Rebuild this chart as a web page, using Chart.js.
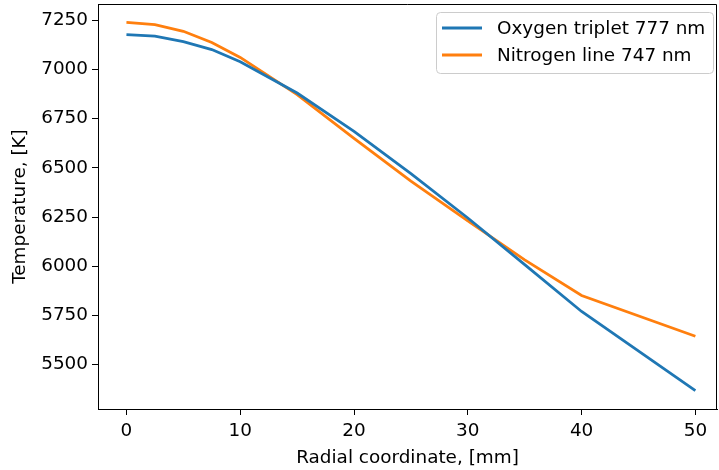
<!DOCTYPE html>
<html>
<head>
<meta charset="utf-8">
<script src="https://cdn.jsdelivr.net/npm/chart.js@4.4.0/dist/chart.umd.min.js"></script>
<style>
html, body { margin: 0; padding: 0; background: #fff; overflow: hidden; }
</style>
</head>
<body>
<canvas id="chart" width="719" height="470" style="width:719px;height:470px"></canvas>
<script>
// radial profile of temperature, two spectral lines
const radius = [0, 2.5, 5, 7.5, 10, 15, 20, 25, 30, 35, 40, 50];
const oxygenTemp = [7177, 7169, 7141, 7101, 7039, 6880, 6685, 6470, 6245, 6008, 5770, 5368];
const nitrogenTemp = [7239, 7228, 7194, 7137, 7061, 6872, 6650, 6432, 6230, 6032, 5851, 5644];
const seriesNames = ['Oxygen triplet 777 nm', 'Nitrogen line 747 nm'];
const xTicks = [0, 10, 20, 30, 40, 50];
const yTicks = [5500, 5750, 6000, 6250, 6500, 6750, 7000, 7250];
const xLimits = [-2.5, 51.9];

const FONT = '"DejaVu Sans", sans-serif';
const FSIZE = 18.4;
const BLUE = '#1f77b4';
const ORANGE = '#ff7f0e';

function toPoints(xs, ys) {
    return xs.map((x, i) => ({ x: x, y: ys[i] }));
}

// 5% margins like the usual autoscale
function padRange(vals) {
    const lo = Math.min(...vals), hi = Math.max(...vals);
    const m = (hi - lo) * 0.05;
    return [lo - m, hi + m];
}
const yRange = padRange(oxygenTemp.concat(nitrogenTemp));

function noEdgePadding(scale) {
    scale.paddingTop = 0;
    scale.paddingBottom = 0;
    scale.paddingLeft = 0;
    scale.paddingRight = 0;
}

// top/right spines
const framePlugin = {
    id: 'frame',
    afterDraw(chart) {
        const a = chart.chartArea, ctx = chart.ctx;
        ctx.save();
        ctx.strokeStyle = '#000';
        ctx.lineWidth = 1;
        ctx.beginPath();
        ctx.moveTo(a.left, a.top + 0.5);
        ctx.lineTo(a.right - 0.5, a.top + 0.5);
        ctx.lineTo(a.right - 0.5, a.bottom);
        ctx.stroke();
        ctx.restore();
    }
};

// legend box inside the plot, upper right
const innerLegend = {
    id: 'innerLegend',
    afterDraw(chart) {
        const ctx = chart.ctx;
        const bx = 436.5, by = 12.5, bw = 277, bh = 61, r = 4;
        ctx.save();
        ctx.beginPath();
        ctx.roundRect(bx, by, bw, bh, r);
        ctx.fillStyle = 'rgba(255,255,255,0.8)';
        ctx.fill();
        ctx.strokeStyle = '#cccccc';
        ctx.lineWidth = 1;
        ctx.stroke();
        ctx.font = FSIZE + 'px ' + FONT;
        ctx.textBaseline = 'middle';
        ctx.fillStyle = '#000';
        chart.data.datasets.forEach((ds, i) => {
            const y = 28 + i * 27;
            ctx.strokeStyle = ds.borderColor;
            ctx.lineWidth = 2.8;
            ctx.beginPath();
            ctx.moveTo(442, y);
            ctx.lineTo(482, y);
            ctx.stroke();
            ctx.fillText(ds.label, 497, y + 1);
        });
        ctx.restore();
    }
};

new Chart(document.getElementById('chart'), {
    type: 'line',
    data: {
        datasets: [{
            label: seriesNames[0],
            data: toPoints(radius, oxygenTemp),
            borderColor: BLUE,
            borderWidth: 2.8,
            pointRadius: 0,
            tension: 0,
            fill: false
        }, {
            label: seriesNames[1],
            data: toPoints(radius, nitrogenTemp),
            borderColor: ORANGE,
            borderWidth: 2.8,
            pointRadius: 0,
            tension: 0,
            fill: false
        }]
    },
    options: {
        responsive: false,
        animation: false,
        devicePixelRatio: 1,
        layout: { padding: { top: 4, right: 2, bottom: 0, left: 0 } },
        plugins: {
            legend: { display: false },
            tooltip: { enabled: false }
        },
        scales: {
            x: {
                type: 'linear',
                min: xLimits[0],
                max: xLimits[1],
                afterBuildTicks: (scale) => { scale.ticks = xTicks.map(v => ({ value: v })); },
                afterFit: (scale) => { scale.height = 61; noEdgePadding(scale); },
                grid: { drawOnChartArea: false, tickLength: 6, tickColor: '#000', tickWidth: 1 },
                border: { display: true, color: '#000', width: 1 },
                ticks: {
                    color: '#000', font: { family: FONT, size: FSIZE }, padding: 5, maxRotation: 0,
                    callback: (v) => String(v)
                },
                title: {
                    display: true,
                    text: 'Radial coordinate, [mm]',
                    color: '#000',
                    font: { family: FONT, size: FSIZE },
                    padding: { top: 0, bottom: 1 }
                }
            },
            y: {
                type: 'linear',
                min: yRange[0],
                max: yRange[1],
                afterBuildTicks: (scale) => { scale.ticks = yTicks.map(v => ({ value: v })); },
                afterFit: (scale) => { scale.width = 98; noEdgePadding(scale); },
                grid: { drawOnChartArea: false, tickLength: 6, tickColor: '#000', tickWidth: 1 },
                border: { display: true, color: '#000', width: 1 },
                ticks: {
                    color: '#000', font: { family: FONT, size: FSIZE }, padding: 4,
                    callback: (v) => String(v)
                },
                title: {
                    display: true,
                    text: 'Temperature, [K]',
                    color: '#000',
                    font: { family: FONT, size: FSIZE },
                    padding: { top: 9, bottom: 0 }
                }
            }
        }
    },
    plugins: [framePlugin, innerLegend]
});
</script>
</body>
</html>
